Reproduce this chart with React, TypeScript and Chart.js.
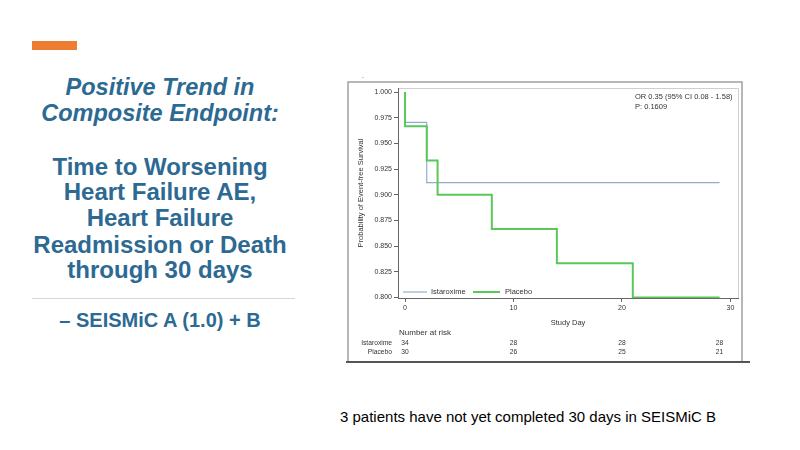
import React, { useEffect, useRef } from "react";
import { Chart, registerables } from "chart.js";

Chart.register(...registerables);

// ---- data ----
const istaroximeDays = [0, 0, 2, 29];
const istaroximeSurv = [1.0, 0.9706, 0.9118, 0.9118];
const placeboDays = [0, 0, 2, 3, 8, 14, 21, 29];
const placeboSurv = [1.0, 0.9667, 0.9333, 0.9, 0.8667, 0.8333, 0.8, 0.8];
const xTicks = [0, 10, 20, 30];
const yTicks = [0.8, 0.825, 0.85, 0.875, 0.9, 0.925, 0.95, 0.975, 1.0];
const riskDays = [0, 10, 20, 29];
const riskIstaroxime = [34, 28, 28, 28];
const riskPlacebo = [30, 26, 25, 21];
const seriesNames = ["Istaroxime", "Placebo"];
const annotationLines = ["OR 0.35 (95% CI 0.08 - 1.58)", "P: 0.1609"];

const FONT = '"Liberation Sans", Arial, Helvetica, sans-serif';
const BLUE = "#93acce";
const GREEN = "#58c858";
const TEXT = "#333333";
const TITLE_BLUE = "#2c6a93";

const overlayPlugin = {
  id: "overlay",
  beforeDraw(chart: any) {
    const ctx = chart.ctx;
    const a = chart.chartArea;
    ctx.save();
    ctx.strokeStyle = "#a0a0a0";
    ctx.lineWidth = 1.5;
    ctx.beginPath();
    ctx.moveTo(2, 286);
    ctx.lineTo(2, 6);
    ctx.lineTo(396, 6);
    ctx.lineTo(396, 286);
    ctx.stroke();
    ctx.strokeStyle = "#555555";
    ctx.lineWidth = 2;
    ctx.beginPath();
    ctx.moveTo(0, 286);
    ctx.lineTo(404, 286);
    ctx.stroke();
    ctx.strokeStyle = "#cfcfcf";
    ctx.lineWidth = 1;
    ctx.beginPath();
    ctx.moveTo(a.left, a.top + 0.5);
    ctx.lineTo(a.right + 0.5, a.top + 0.5);
    ctx.lineTo(a.right + 0.5, a.bottom);
    ctx.stroke();
    ctx.fillStyle = TEXT;
    ctx.font = `7px ${FONT}`;
    ctx.textAlign = "left";
    ctx.textBaseline = "middle";
    ctx.fillText(".", 16, 0);
    ctx.restore();
  },
  afterDatasetsDraw(chart: any) {
    const ctx = chart.ctx;
    const a = chart.chartArea;
    const xs = chart.scales.x;
    ctx.save();
    ctx.fillStyle = TEXT;
    ctx.textBaseline = "middle";
    ctx.font = `7.5px ${FONT}`;
    ctx.textAlign = "left";
    ctx.fillText(annotationLines[0], a.right - 103, a.top + 9);
    ctx.fillText(annotationLines[1], a.right - 103, a.top + 19);
    const ly = a.bottom - 6;
    ctx.strokeStyle = BLUE;
    ctx.lineWidth = 1.2;
    ctx.beginPath();
    ctx.moveTo(a.left + 5, ly);
    ctx.lineTo(a.left + 29, ly);
    ctx.stroke();
    ctx.fillText(seriesNames[0], a.left + 33, ly);
    ctx.strokeStyle = GREEN;
    ctx.lineWidth = 2;
    ctx.beginPath();
    ctx.moveTo(a.left + 75, ly);
    ctx.lineTo(a.left + 102, ly);
    ctx.stroke();
    ctx.fillText(seriesNames[1], a.left + 107, ly);
    ctx.textAlign = "center";
    ctx.fillText("Study Day", (a.left + a.right) / 2, a.bottom + 25);
    ctx.save();
    ctx.translate(15, (a.top + a.bottom) / 2);
    ctx.rotate(-Math.PI / 2);
    ctx.fillText("Probability of Event-free Survival", 0, 0);
    ctx.restore();
    ctx.font = `8px ${FONT}`;
    ctx.textAlign = "left";
    ctx.fillText("Number at risk", a.left + 1, a.bottom + 35);
    ctx.font = `6.7px ${FONT}`;
    ctx.textAlign = "right";
    ctx.fillText(seriesNames[0], a.left - 6, a.bottom + 45);
    ctx.fillText(seriesNames[1], a.left - 6, a.bottom + 54);
    ctx.textAlign = "center";
    riskDays.forEach((d, i) => {
      const px = xs.getPixelForValue(d);
      ctx.fillText(String(riskIstaroxime[i]), px, a.bottom + 45);
      ctx.fillText(String(riskPlacebo[i]), px, a.bottom + 54);
    });
    ctx.restore();
  },
};

function KMChart() {
  const ref = useRef<HTMLCanvasElement>(null);
  useEffect(() => {
    if (!ref.current) return;
    Chart.defaults.font.family = FONT;
    const chart = new Chart(ref.current, {
      type: "line",
      data: {
        datasets: [
          {
            label: seriesNames[0],
            data: istaroximeDays.map((d, i) => ({ x: d, y: istaroximeSurv[i] })),
            borderColor: BLUE,
            borderWidth: 1.2,
            stepped: "before",
            pointRadius: 0,
            fill: false,
            order: 1,
          },
          {
            label: seriesNames[1],
            data: placeboDays.map((d, i) => ({ x: d, y: placeboSurv[i] })),
            borderColor: GREEN,
            borderWidth: 2,
            stepped: "before",
            pointRadius: 0,
            fill: false,
            order: 0,
          },
        ],
      },
      options: {
        responsive: false,
        animation: false,
        layout: { padding: { top: 12, right: 14, left: 0, bottom: 0 } },
        plugins: { legend: { display: false }, tooltip: { enabled: false } },
        scales: {
          x: {
            type: "linear",
            min: -0.65,
            max: 30.7,
            afterBuildTicks: (axis: any) => {
              axis.ticks = xTicks.map((v) => ({ value: v }));
            },
            afterFit: (axis: any) => {
              axis.height = 68;
            },
            grid: { drawOnChartArea: false, drawTicks: true, tickLength: 4, color: "#666666" },
            border: { display: true, color: "#666666", width: 1 },
            ticks: {
              padding: 2,
              color: TEXT,
              font: { size: 7, family: FONT },
              callback: (v: any) => String(v),
            },
          },
          y: {
            type: "linear",
            min: 0.7995,
            max: 1.004,
            afterBuildTicks: (axis: any) => {
              axis.ticks = yTicks.map((v) => ({ value: v }));
            },
            afterFit: (axis: any) => {
              axis.width = 52;
            },
            grid: { drawOnChartArea: false, drawTicks: true, tickLength: 4, color: "#666666" },
            border: { display: true, color: "#666666", width: 1 },
            ticks: {
              padding: 2,
              color: TEXT,
              font: { size: 7, family: FONT },
              callback: (v: any) => Number(v).toFixed(3),
            },
          },
        },
      },
      plugins: [overlayPlugin],
    } as any);
    return () => chart.destroy();
  }, []);
  return (
    <canvas
      ref={ref}
      width={406}
      height={290}
      style={{ position: "absolute", left: 346, top: 76, width: 406, height: 290 }}
    />
  );
}

const titleLines: [string, number][] = [
  ["Positive Trend in", 87],
  ["Composite Endpoint:", 113],
];
const subtitleLines: [string, number][] = [
  ["Time to Worsening", 167],
  ["Heart Failure AE,", 192],
  ["Heart Failure", 218],
  ["Readmission or Death", 245],
  ["through 30 days", 270],
];

export default function App() {
  const lineStyle = (center: number, size: number, italic: boolean): React.CSSProperties => ({
    position: "absolute",
    left: 0,
    width: 320,
    top: center - 15,
    height: 30,
    lineHeight: "30px",
    textAlign: "center",
    fontFamily: FONT,
    fontWeight: "bold",
    fontStyle: italic ? "italic" : "normal",
    fontSize: size,
    color: TITLE_BLUE,
    whiteSpace: "pre",
  });
  return (
    <div
      style={{
        position: "fixed",
        left: 0,
        top: 0,
        width: 800,
        height: 450,
        background: "#ffffff",
        overflow: "hidden",
      }}
    >
      <div style={{ position: "absolute", left: 32, top: 41, width: 45, height: 9, background: "#ed7d31" }} />
      {titleLines.map(([t, c]) => (
        <div key={t} style={lineStyle(c, 23.5, true)}>{t}</div>
      ))}
      {subtitleLines.map(([t, c]) => (
        <div key={t} style={lineStyle(c, 24, false)}>{t}</div>
      ))}
      <div style={{ position: "absolute", left: 32, top: 298, width: 263, height: 1, background: "#d6d6d6" }} />
      <div style={lineStyle(320, 20, false)}>– SEISMiC A (1.0) + B</div>
      <div
        style={{
          position: "absolute",
          left: 340,
          top: 408,
          height: 18,
          lineHeight: "18px",
          fontFamily: FONT,
          fontSize: 15,
          color: "#000000",
          whiteSpace: "pre",
        }}
      >
        3 patients have not yet completed 30 days in SEISMiC B
      </div>
      <KMChart />
    </div>
  );
}
